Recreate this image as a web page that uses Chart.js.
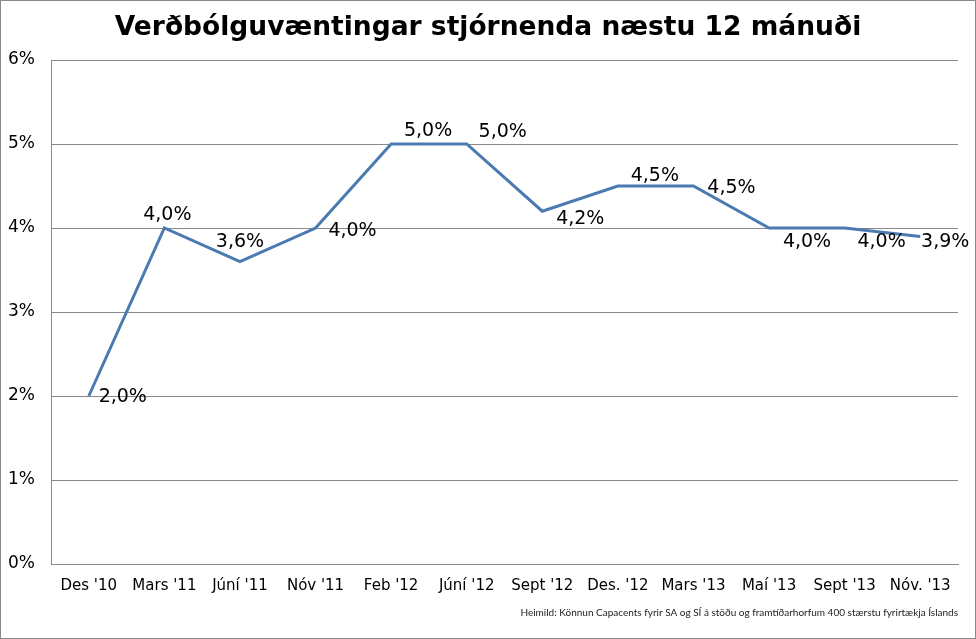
<!DOCTYPE html>
<html>
<head>
<meta charset="utf-8">
<script src="https://cdn.jsdelivr.net/npm/chart.js@4.4.1/dist/chart.umd.min.js"></script>
<style>
  html, body { margin: 0; padding: 0; background: #fff; }
  #wrap { width: 976px; height: 639px; position: relative; }
</style>
</head>
<body>
<div id="wrap"><canvas id="inflChart" width="976" height="639"></canvas></div>
<script>
// Verðbólguvæntingar stjórnenda
const categories = ["Des '10", "Mars '11", "Júní '11", "Nóv '11", "Feb '12", "Júní '12",
                    "Sept '12", "Des. '12", "Mars '13", "Maí '13", "Sept '13", "Nóv. '13"];
const expectations = [2.0, 4.0, 3.6, 4.0, 5.0, 5.0, 4.2, 4.5, 4.5, 4.0, 4.0, 3.9];
const yTicks = [0, 1, 2, 3, 4, 5, 6];

const titleText = 'Verðbólguvæntingar stjórnenda næstu 12 mánuði';
const sourceText = 'Heimild: Könnun Capacents fyrir SA og SÍ á stöðu og framtíðarhorfum 400 stærstu fyrirtækja Íslands';

// label offset from the point (dx, dy), Excel put them a bit all over the place
const labelOffsets = [
    [34, 1], [3, -13], [0, -20], [37, 3], [37, -13], [36, -12],
    [38, 8], [37, -10], [38, 2], [38, 14], [37, 14], [25, 6]
];

const FAM = '"DejaVu Sans", sans-serif';
const fmt = v => v.toFixed(1).replace('.', ',') + '%';

const extrasPlugin = {
    id: 'extras',
    afterDatasetsDraw: (chart) => {
        const ctx = chart.ctx;
        const meta = chart.getDatasetMeta(0);
        ctx.save();
        ctx.fillStyle = '#000';
        ctx.font = '19px ' + FAM;
        ctx.textAlign = 'center';
        ctx.textBaseline = 'middle';
        meta.data.forEach((pt, i) => {
            const off = labelOffsets[i];
            ctx.fillText(fmt(expectations[i]), pt.x + off[0], pt.y + off[1]);
        });
        ctx.restore();
    },
    afterDraw: (chart) => {
        const ctx = chart.ctx;
        ctx.save();
        // title, centred on the whole picture like the original
        ctx.font = 'bold 26.5px ' + FAM;
        ctx.fillStyle = '#000';
        ctx.textAlign = 'center';
        ctx.textBaseline = 'middle';
        ctx.fillText(titleText, chart.width / 2, 28);
        // source line
        ctx.font = '10px Lato, sans-serif';
        ctx.fillStyle = '#222';
        ctx.textAlign = 'right';
        ctx.fillText(sourceText, 958, 613);
        ctx.strokeStyle = '#888';
        ctx.lineWidth = 1;
        ctx.strokeRect(0.5, 0.5, chart.width - 1, chart.height - 1);
        ctx.restore();
    }
};

new Chart(document.getElementById('inflChart').getContext('2d'), {
    type: 'line',
    data: {
        labels: categories,
        datasets: [{
            data: expectations,
            borderColor: '#4a7ab0',
            borderWidth: 3,
            pointRadius: 0,
            tension: 0,
            fill: false
        }]
    },
    options: {
        responsive: false,
        animation: false,
        layout: { padding: { left: 0, right: 18, top: 60, bottom: 0 } },
        plugins: {
            legend: { display: false },
            tooltip: { enabled: false },
            title: { display: false }
        },
        scales: {
            x: {
                offset: true,
                grid: { display: false, drawTicks: false },
                border: { display: true, color: '#888' },
                ticks: {
                    color: '#000',
                    padding: 13,
                    maxRotation: 0,
                    autoSkip: false,
                    font: { family: FAM, size: 15 }
                },
                afterFit: (scale) => { scale.height = 75; }
            },
            y: {
                min: 0,
                max: 6,
                afterBuildTicks: (scale) => { scale.ticks = yTicks.map(v => ({ value: v })); },
                grid: { color: '#888', drawTicks: false },
                border: { display: true, color: '#888' },
                ticks: {
                    color: '#000',
                    padding: 16,
                    font: { family: FAM, size: 17 },
                    callback: (v) => v + '%'
                },
                afterFit: (scale) => { scale.width = 51; }
            }
        }
    },
    plugins: [extrasPlugin]
});
</script>
</body>
</html>
